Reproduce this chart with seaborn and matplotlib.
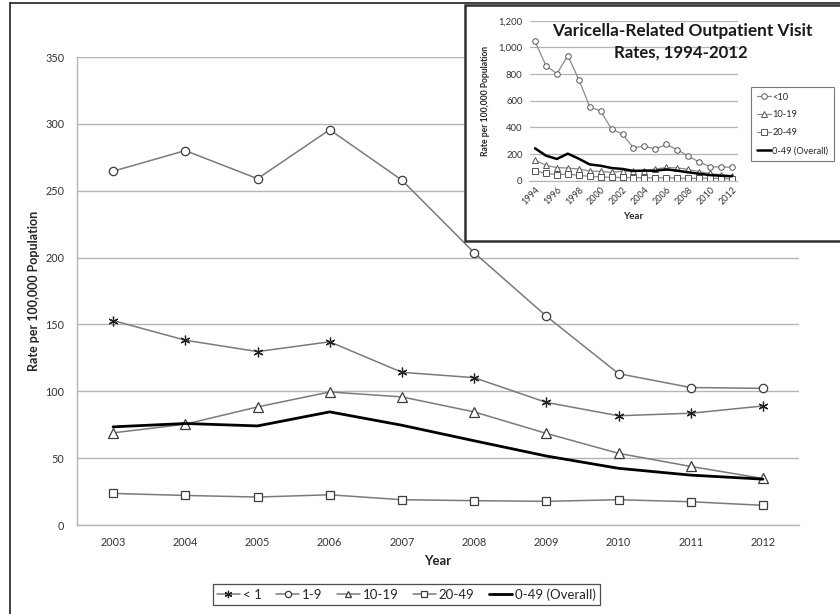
import matplotlib
matplotlib.use("Agg")
import matplotlib.pyplot as plt
from matplotlib.patches import Rectangle
from matplotlib.lines import Line2D
from matplotlib.ticker import FuncFormatter, FixedLocator
import seaborn as sns
import numpy as np

# ---------------- data ----------------
years = [2003, 2004, 2005, 2006, 2007, 2008, 2009, 2010, 2011, 2012]
rate_lt1 = [152.9, 138.2, 129.7, 137.0, 114.2, 110.2, 91.7, 81.7, 83.6, 89.0]
rate_1_9 = [264.6, 280.0, 259.0, 295.6, 257.9, 203.7, 156.2, 113.2, 102.8, 102.2]
rate_10_19 = [68.9, 75.4, 88.3, 99.5, 95.8, 84.6, 68.5, 53.6, 43.8, 34.8]
rate_20_49 = [23.6, 22.1, 20.9, 22.6, 18.9, 18.2, 17.7, 18.9, 17.4, 14.7]
rate_overall = [73.4, 75.9, 74.1, 84.6, 74.6, 63.0, 51.6, 42.4, 37.3, 34.3]
main_labels = ["< 1", "1-9", "10-19", "20-49", "0-49 (Overall)"]

inset_years = list(range(1994, 2013))
in_lt10 = [1045, 864, 802, 939, 759, 556, 521, 388, 348, 247, 260, 237, 272, 232, 185, 140, 105, 102, 102]
in_10_19 = [155, 115, 98, 95, 88, 73, 70, 62, 72, 69, 75, 88, 99, 96, 85, 68, 54, 44, 35]
in_20_49 = [73, 55, 45, 50, 40, 33, 28, 25, 24, 23, 22, 21, 23, 19, 18, 18, 19, 17, 15]
in_overall = [243, 188, 163, 203, 165, 122, 112, 95, 88, 73, 76, 74, 85, 75, 63, 52, 42, 37, 34]
inset_labels = ["<10", "10-19", "20-49", "0-49 (Overall)"]
inset_title = ["Varicella-Related Outpatient Visit", "Rates, 1994-2012"]

# ---------------- style ----------------
sns.set_style("white")
plt.rcParams["font.family"] = ["Lato", "DejaVu Sans"]

LINE = "#7a7a7a"
EDGE = "#3c3c3c"
GRID = "#b4b4b4"
TXT = "#333333"

W, H = 840, 614
fig = plt.figure(figsize=(W / 100, H / 100), dpi=100)

def fx(px):
    return px / W

def fy(py):
    return 1 - py / H

# outer frame
fig.add_artist(Line2D([fx(10), fx(10)], [0, fy(3)], color="#303030", lw=1.3))
fig.add_artist(Line2D([fx(10), 1], [fy(3), fy(3)], color="#303030", lw=1.3))

# ---------------- main axes ----------------
ax = fig.add_axes([fx(77), fy(525), fx(799) - fx(77), fy(57) - fy(525)])
ax.set_zorder(0)

mk = dict(markerfacecolor="white", markeredgecolor=EDGE, markeredgewidth=0.9)
sns.lineplot(x=years, y=rate_lt1, ax=ax, color=LINE, lw=1.1, marker=(6, 2, 0),
             markersize=7, markeredgecolor="#202020", markeredgewidth=0.9, label=main_labels[0])
sns.lineplot(x=years, y=rate_1_9, ax=ax, color=LINE, lw=1.1, marker="o", markersize=6, label=main_labels[1], **mk)
sns.lineplot(x=years, y=rate_10_19, ax=ax, color=LINE, lw=1.1, marker="^", markersize=6.5, label=main_labels[2], **mk)
sns.lineplot(x=years, y=rate_20_49, ax=ax, color=LINE, lw=1.1, marker="s", markersize=5.5, label=main_labels[3], **mk)
sns.lineplot(x=years, y=rate_overall, ax=ax, color="black", lw=2.0, label=main_labels[4])

ax.set_xlim(years[0] - 0.5, years[-1] + 0.5)
ax.set_ylim(0, 350)
ax.set_yticks(np.arange(0, 351, 50))
ax.set_xticks(years)
ax.set_xticklabels([str(y) for y in years])
ax.xaxis.set_minor_locator(FixedLocator(np.arange(years[0] - 0.5, years[-1] + 0.6, 1)))
ax.tick_params(axis="x", which="major", length=0, pad=9, labelsize=7.8, labelcolor=TXT)
ax.tick_params(axis="x", which="minor", length=4, width=0.8, color=GRID, direction="out")
ax.tick_params(axis="y", length=5, width=0.8, color=GRID, pad=4, labelsize=7.8, labelcolor=TXT, direction="out")
ax.grid(axis="y", color=GRID, lw=1.0)
ax.grid(axis="x", visible=False)
for s in ["top", "right"]:
    ax.spines[s].set_visible(False)
for s in ["left", "bottom"]:
    ax.spines[s].set_color(GRID)
    ax.spines[s].set_linewidth(1.0)
ax.set_xlabel("Year", fontsize=9.5, fontweight="bold", labelpad=5)
ax.set_ylabel("Rate per 100,000 Population", fontsize=9, fontweight="bold", labelpad=4)

leg = ax.legend(loc="center", bbox_to_anchor=(fx(406.5), fy(594.5)), bbox_transform=fig.transFigure,
                ncol=5, frameon=True, fontsize=9.5, handlelength=1.7, handletextpad=0.25,
                columnspacing=1.1, borderpad=0.3, fancybox=False, markerscale=0.75)
leg.get_frame().set_edgecolor("#202020")
leg.get_frame().set_linewidth(0.9)

# ---------------- inset ----------------
fig.add_artist(Rectangle((fx(465), fy(241)), 1.0 - fx(465) + 0.01, fy(5) - fy(241),
                         transform=fig.transFigure, facecolor="white", edgecolor="#303030",
                         lw=1.8, zorder=1))

iax = fig.add_axes([fx(529.5), fy(180.7), fx(737.5) - fx(529.5), fy(20.7) - fy(180.7)])
iax.set_zorder(2)
iax.patch.set_alpha(0)

imk = dict(markerfacecolor="white", markeredgecolor="#555555", markeredgewidth=0.7)
sns.lineplot(x=inset_years, y=in_lt10, ax=iax, color="#8a8a8a", lw=0.9, marker="o", markersize=4, label=inset_labels[0], **imk)
sns.lineplot(x=inset_years, y=in_10_19, ax=iax, color="#8a8a8a", lw=0.9, marker="^", markersize=4, label=inset_labels[1], **imk)
sns.lineplot(x=inset_years, y=in_20_49, ax=iax, color="#8a8a8a", lw=0.9, marker="s", markersize=3.8, label=inset_labels[2], **imk)
sns.lineplot(x=inset_years, y=in_overall, ax=iax, color="black", lw=1.8, label=inset_labels[3])

iax.set_xlim(inset_years[0] - 0.5, inset_years[-1] + 0.5)
iax.set_ylim(0, 1200)
iax.set_yticks(np.arange(0, 1201, 200))
iax.yaxis.set_major_formatter(FuncFormatter(lambda v, p: f"{int(v):,}"))
iax.set_xticks(inset_years[::2])
iax.set_xticklabels([str(y) for y in inset_years[::2]], rotation=45, ha="right", rotation_mode="anchor")
iax.xaxis.set_minor_locator(FixedLocator(np.arange(inset_years[0] - 0.5, inset_years[-1] + 0.6, 1)))
iax.tick_params(axis="x", which="major", length=0, pad=3, labelsize=6.5, labelcolor=TXT)
iax.tick_params(axis="x", which="minor", length=3, width=0.7, color=GRID)
iax.tick_params(axis="y", length=0, pad=5, labelsize=6.8, labelcolor=TXT)
iax.grid(axis="y", color=GRID, lw=0.9)
iax.grid(axis="x", visible=False)
for s in ["top", "right", "left"]:
    iax.spines[s].set_visible(False)
iax.spines["bottom"].set_color(GRID)
iax.set_xlabel("Year", fontsize=7, fontweight="bold", labelpad=4)
iax.set_ylabel("Rate per 100,000 Population", fontsize=6.2, fontweight="bold", labelpad=6)

# title lines: fit each to the reference's pixel span
renderer = fig.canvas.get_renderer()
spans = [(553, 812, 31), (614, 747, 53)]
for line, (x0, x1, yc) in zip(inset_title, spans):
    t = fig.text(fx((x0 + x1) / 2), fy(yc), line, ha="center", va="center", fontsize=13,
                 fontweight="bold", color="#1a1a1a", zorder=3)
    wpx = t.get_window_extent(renderer).width
    t.set_fontsize(min(15, 13 * (x1 - x0) / wpx))

ileg = iax.legend(loc="upper left", bbox_to_anchor=(fx(751), fy(87)), bbox_transform=fig.transFigure,
                  frameon=True, fontsize=6.7, handlelength=1.5, handletextpad=0.2,
                  labelspacing=0.95, borderpad=0.6, borderaxespad=0, fancybox=False)
ileg.get_frame().set_edgecolor("#555555")
ileg.get_frame().set_linewidth(0.8)

fig.savefig("out.png", dpi=100)
